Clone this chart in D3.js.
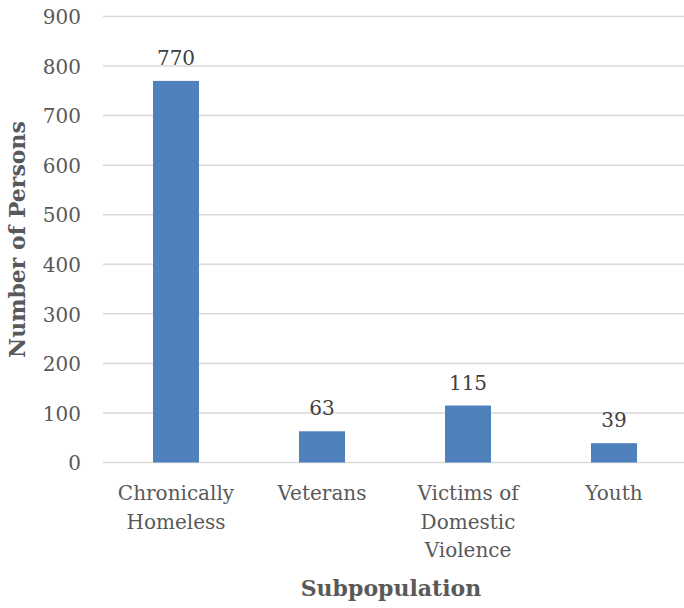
<!DOCTYPE html>
<html>
<head>
<meta charset="utf-8">
<script src="https://cdn.jsdelivr.net/npm/d3@7"></script>
<style>
  html, body { margin: 0; padding: 0; background: #fff; }
  svg { display: block; }
</style>
</head>
<body>
<svg id="chart" width="684" height="608"></svg>
<script>
const categories = [["Chronically", "Homeless"], ["Veterans"], ["Victims of", "Domestic", "Violence"], ["Youth"]];
const values = [770, 63, 115, 39];
const yTicks = [0, 100, 200, 300, 400, 500, 600, 700, 800, 900];
const xTitle = "Subpopulation";
const yTitle = "Number of Persons";

const svg = d3.select("#chart");
const W = 684, H = 608;
const plot = { left: 103, right: 687, top: 16.5, bottom: 462.5 };
const fontFamily = "'DejaVu Serif', serif";
const textColor = "#595959";

const x = d3.scaleBand()
  .domain(d3.range(categories.length))
  .range([plot.left, plot.right])
  .paddingInner(0.685)
  .paddingOuter(0.3425);

const y = d3.scaleLinear().domain([0, 900]).range([plot.bottom, plot.top]);

// gridlines
svg.append("g")
  .selectAll("line")
  .data(yTicks)
  .join("line")
  .attr("x1", plot.left)
  .attr("x2", plot.right)
  .attr("y1", d => y(d))
  .attr("y2", d => y(d))
  .attr("stroke", "#d9d9d9")
  .attr("stroke-width", 1.5);

// y axis labels
const yAxis = d3.axisLeft(y).tickValues(yTicks).tickSize(0).tickPadding(0);
const yg = svg.append("g").attr("transform", `translate(${plot.left - 22},0)`).call(yAxis);
yg.select(".domain").remove();
yg.selectAll("text")
  .attr("font-family", fontFamily)
  .attr("font-size", 20)
  .attr("fill", textColor)
  .attr("dy", "0.36em");

// bars
svg.append("g")
  .selectAll("rect")
  .data(values)
  .join("rect")
  .attr("x", (d, i) => x(i))
  .attr("width", x.bandwidth())
  .attr("y", d => y(d))
  .attr("height", d => y(0) - y(d))
  .attr("fill", "#4f81bd");

// value labels
svg.append("g")
  .selectAll("text")
  .data(values)
  .join("text")
  .attr("x", (d, i) => x(i) + x.bandwidth() / 2)
  .attr("y", d => y(d) - 16)
  .attr("text-anchor", "middle")
  .attr("font-family", fontFamily)
  .attr("font-size", 20)
  .attr("fill", "#404040")
  .text(d => d);

// category labels
const cg = svg.append("g")
  .selectAll("text")
  .data(categories)
  .join("text")
  .attr("x", (d, i) => x(i) + x.bandwidth() / 2)
  .attr("y", 500)
  .attr("text-anchor", "middle")
  .attr("font-family", fontFamily)
  .attr("font-size", 20)
  .attr("fill", textColor);
cg.selectAll("tspan")
  .data(d => d)
  .join("tspan")
  .attr("x", function () { return d3.select(this.parentNode).attr("x"); })
  .attr("dy", (d, i) => i === 0 ? 0 : 28.5)
  .text(d => d);

// axis titles
svg.append("text")
  .attr("x", (plot.left + plot.right) / 2 - 4)
  .attr("y", 596)
  .attr("text-anchor", "middle")
  .attr("font-family", fontFamily)
  .attr("font-weight", "bold")
  .attr("font-size", 22)
  .attr("fill", textColor)
  .text(xTitle);

svg.append("text")
  .attr("transform", `translate(25,${(plot.top + plot.bottom) / 2}) rotate(-90)`)
  .attr("text-anchor", "middle")
  .attr("font-family", fontFamily)
  .attr("font-weight", "bold")
  .attr("font-size", 22)
  .attr("fill", textColor)
  .text(yTitle);
</script>
</body>
</html>
